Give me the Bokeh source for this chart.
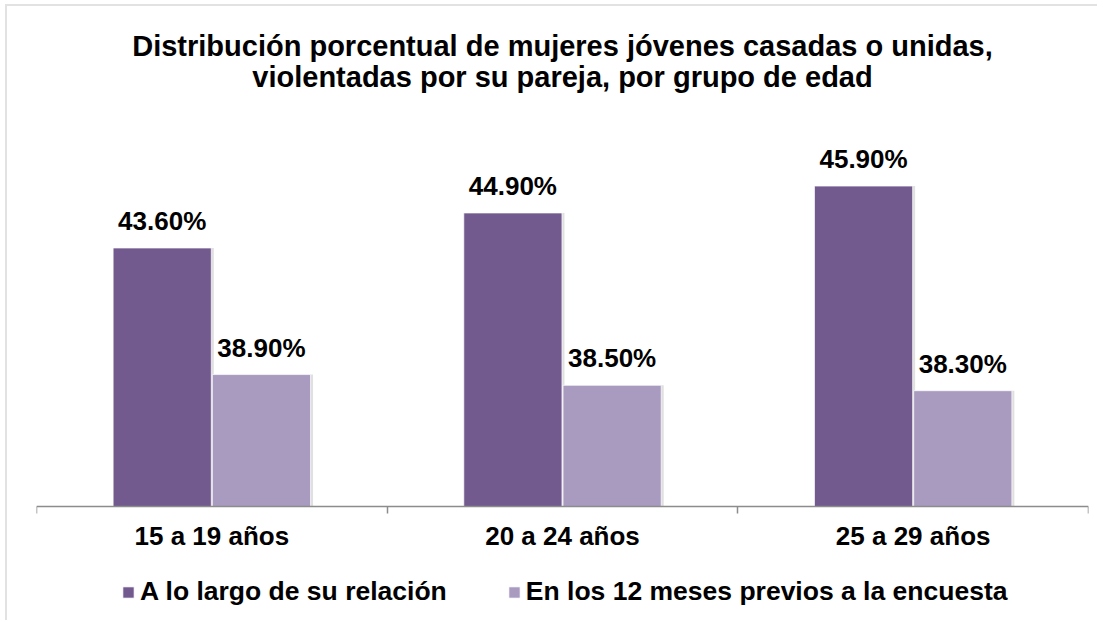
from bokeh.plotting import figure
from bokeh.models import Range1d, FixedTicker, Label, Legend, LegendItem, ColumnDataSource
from bokeh.core.properties import value
from bokeh.transform import dodge as dodge_t
from bokeh.embed import file_html
from bokeh.resources import INLINE

# ---- data ----
categories = ["15 a 19 años", "20 a 24 años", "25 a 29 años"]
series_names = ["A lo largo de su relación", "En los 12 meses previos a la encuesta"]
a_lo_largo = [43.6, 44.9, 45.9]
ultimos_12 = [38.9, 38.5, 38.3]
title_lines = ["Distribución porcentual de mujeres jóvenes casadas o unidas,",
               "violentadas por su pareja, por grupo de edad"]
y_min, y_max = 34, 48

# ---- layout / style ----
colors = ["#72598E", "#A99AC0"]
FONT = "Liberation Sans"
W, H = 1092, 616
PLOT_TOP, AXIS_Y = 123, 500          # pixel rows (canvas) of value y_max and of the axis
PX = (AXIS_Y - PLOT_TOP) / (y_max - y_min)
y_lo = y_min - (H - AXIS_Y) / PX
y_hi = y_max + PLOT_TOP / PX

p = figure(width=W, height=H, output_backend="svg", toolbar_location=None,
           x_range=Range1d(0, len(categories)), y_range=Range1d(y_lo, y_hi),
           min_border_left=29, min_border_right=11, min_border_top=0, min_border_bottom=0,
           background_fill_color="white", border_fill_color="white")
p.styles = {"border-top": "2px solid #e2e2e2", "border-left": "2px solid #e2e2e2",
            "margin-left": "5px", "margin-top": "4px"}

centers = [i + 0.5 for i in range(len(categories))]
dodge, bw = 0.1415, 0.28
src = ColumnDataSource(dict(
    xa=[c - dodge for c in centers], xb=[c + dodge for c in centers],
    a=a_lo_largo, b=ultimos_12,
    la=[f"{v:.2f}%" for v in a_lo_largo], lb=[f"{v:.2f}%" for v in ultimos_12],
))

# subtle shadows
sh = 2.5 / 350.0
for col, top in (("xa", "a"), ("xb", "b")):
    p.vbar(x=dodge_t(col, sh), top=top, bottom=y_min, width=bw, source=src,
           fill_color="#000000", fill_alpha=0.12, line_color=None)

r1 = p.vbar(x="xa", top="a", bottom=y_min, width=bw, source=src,
            fill_color=colors[0], line_color="white", line_width=1, line_alpha=0.7)
r2 = p.vbar(x="xb", top="b", bottom=y_min, width=bw, source=src,
            fill_color=colors[1], line_color="white", line_width=1, line_alpha=0.7)

for xcol, ycol, tcol in (("xa", "a", "la"), ("xb", "b", "lb")):
    p.text(x=xcol, y=ycol, text=tcol, source=src, text_font=value(FONT), text_font_style="bold",
           text_font_size="26px", text_color="black", text_align="center",
           text_baseline="alphabetic", y_offset=-27)

# axes
p.yaxis.visible = False
p.xgrid.visible = False
p.ygrid.visible = False
p.outline_line_color = None
ax = p.xaxis[0]
ax.fixed_location = y_min
ax.ticker = FixedTicker(ticks=centers, minor_ticks=list(range(len(categories) + 1)))
ax.major_label_overrides = {c: cat for c, cat in zip(centers, categories)}
ax.major_tick_out = 0
ax.major_tick_in = 0
ax.minor_tick_out = 7
ax.minor_tick_in = 0
ax.minor_tick_line_color = "#8c8c8c"
ax.axis_line_color = "#8c8c8c"
ax.axis_line_width = 1.5
ax.minor_tick_line_width = 1.5
ax.major_label_text_font = FONT
ax.major_label_text_font_style = "bold"
ax.major_label_text_font_size = "26px"
ax.major_label_text_color = "black"
ax.major_label_standoff = 7

# title
for i, row in enumerate((39, 70)):
    y = y_hi - row / PX
    p.add_layout(Label(x=len(categories) / 2, y=y, text=title_lines[i], text_align="center",
                       text_baseline="alphabetic", text_font=FONT, text_font_style="bold",
                       text_font_size="29px", text_color="black"))

legend = Legend(items=[LegendItem(label=series_names[0], renderers=[r1]),
                       LegendItem(label=series_names[1], renderers=[r2])],
                orientation="horizontal", location=(85, 15), glyph_width=14, glyph_height=14,
                label_standoff=5, spacing=60, padding=0, margin=0, border_line_color=None,
                background_fill_alpha=0, label_text_font=FONT, label_text_font_style="bold",
                label_text_font_size="26.5px", label_text_color="black")
p.add_layout(legend)

open("out.html", "w").write(file_html(p, INLINE))
